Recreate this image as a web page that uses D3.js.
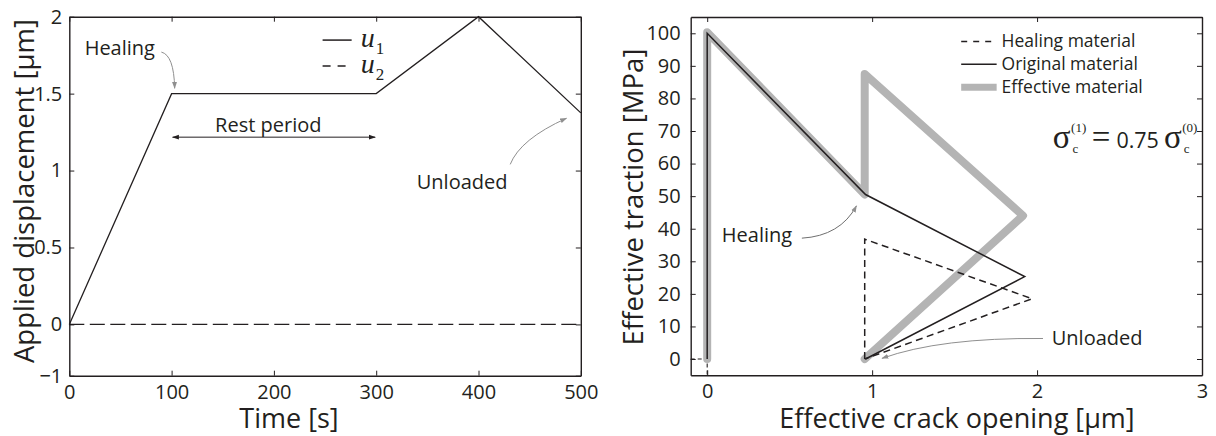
<!DOCTYPE html>
<html><head><meta charset="utf-8">
<script src="https://cdn.jsdelivr.net/npm/d3@7"></script>
<style>
html,body{margin:0;padding:0;background:#fff;}
svg text{fill:#231f20;}
</style></head>
<body>
<svg id="c" width="1216" height="436"></svg>
<script>
// ---------- Left panel data ----------
const timeVals = [0, 100, 300, 400, 500];
const u1Vals   = [0, 1.5, 1.5, 2, 1.375];
const u2Time   = [0, 500];
const u2Vals   = [0, 0];
const timeTicks = [0, 100, 200, 300, 400, 500];
const timeTickLabels = ["0", "100", "200", "300", "400", "500"];
const dispTicks = [-1/3, 0, 0.5, 1, 1.5, 2];
const dispTickLabels = ["\u22121", "0", "0.5", "1", "1.5", "2"];

// ---------- Right panel data ----------
const openTicks = [0, 1, 2, 3];
const openTickLabels = ["0", "1", "2", "3"];
const tracTicks = [0, 10, 20, 30, 40, 50, 60, 70, 80, 90, 100];
const tracTickLabels = ["0","10","20","30","40","50","60","70","80","90","100"];
const effOpening  = [0, 0, 0.955, 0.955, 1.915, 0.955];
const effTraction = [0, 100.3, 50.5, 87.5, 44, 0];
const origOpening  = [0, 0, 0.96, 1.925, 0.96];
const origTraction = [0, 100, 50.5, 25.3, 0];
const healOpening  = [0.955, 0.955, 1.97, 0.955];
const healTraction = [0, 36.8, 18.5, 0];
const healBaseOpening  = [-0.1, 0, 0];
const healBaseTraction = [0, 0, -5];

const svg = d3.select("#c");
const FONT = "'Open Sans', sans-serif";
const SER = "'Liberation Serif', serif";
const INK = "#231f20";
const GRAYA = "#8f8f8f";

const defs = svg.append("defs");
function marker(id, color, orient) {
  defs.append("marker").attr("id", id)
    .attr("viewBox", "0 0 10 10").attr("refX", 9).attr("refY", 5)
    .attr("markerWidth", 7).attr("markerHeight", 7)
    .attr("markerUnits", "userSpaceOnUse")
    .attr("orient", orient)
    .append("path").attr("d", "M0,1.5 L10,5 L0,8.5 Z").attr("fill", color);
}
marker("ahGray", GRAYA, "auto");
marker("ahBlack", INK, "auto");
marker("ahBlackStart", INK, "auto-start-reverse");

function frame(g, x, y, xt, xl, yt, yl, padX, padY) {
  const [x0, x1] = x.range(), [y0, y1] = y.range();
  const style = a => {
    a.selectAll("path.domain").attr("stroke", INK).attr("stroke-width", 1.4);
    a.selectAll(".tick line").attr("stroke", INK).attr("stroke-width", 1);
    a.selectAll("text").attr("font-family", FONT).attr("font-size", 20).attr("fill", INK);
  };
  g.append("g").attr("transform", `translate(0,${y0})`)
    .call(d3.axisBottom(x).tickValues(xt).tickSize(-5).tickSizeOuter(0).tickPadding(padX)
      .tickFormat((d, i) => xl[i])).call(style);
  g.append("g").attr("transform", `translate(0,${y1})`)
    .call(d3.axisTop(x).tickValues(xt).tickSize(-5).tickSizeOuter(0).tickFormat("")).call(style);
  g.append("g").attr("transform", `translate(${x0},0)`)
    .call(d3.axisLeft(y).tickValues(yt).tickSize(-5).tickSizeOuter(0).tickPadding(padY)
      .tickFormat((d, i) => yl[i])).call(style);
  g.append("g").attr("transform", `translate(${x1},0)`)
    .call(d3.axisRight(y).tickValues(yt).tickSize(-5).tickSizeOuter(0).tickFormat("")).call(style);
}

function curveArrow(g, x, y, s, c, e, color, mk, w) {
  const p = d3.path();
  p.moveTo(x(s[0]), y(s[1]));
  p.quadraticCurveTo(x(c[0]), y(c[1]), x(e[0]), y(e[1]));
  g.append("path").attr("d", p.toString()).attr("fill", "none")
    .attr("stroke", color).attr("stroke-width", w || 1).attr("marker-end", `url(#${mk})`);
}

// ================= LEFT PANEL =================
{
  const x = d3.scaleLinear().domain([0, 500]).range([69.3, 580.8]);
  const y = d3.scaleLinear().domain([-1/3, 2]).range([375.7, 16.7]);
  const g = svg.append("g");

  const line = d3.line().x(d => x(d[0])).y(d => y(d[1]));
  g.append("path").datum(u2Time.map((t, i) => [t, u2Vals[i]]))
    .attr("d", line).attr("fill", "none").attr("stroke", INK)
    .attr("stroke-width", 1.3).attr("stroke-dasharray", "15,5.5");
  g.append("path").datum(timeVals.map((t, i) => [t, u1Vals[i]]))
    .attr("d", line).attr("fill", "none").attr("stroke", INK).attr("stroke-width", 1.3);

  frame(g, x, y, timeTicks, timeTickLabels, dispTicks, dispTickLabels, 9, 7);

  // axis labels
  g.append("text").attr("x", 289).attr("y", 428).attr("text-anchor", "middle")
    .attr("font-family", FONT).attr("font-size", 27).text("Time [s]");
  g.append("text").attr("transform", "translate(34,191) rotate(-90)").attr("text-anchor", "middle")
    .attr("font-family", FONT).attr("font-size", 27.5).text("Applied displacement [\u03bcm]");

  // legend
  const leg = [[1.848, null, "1"], [1.68, "8,7", "2"]];
  leg.forEach((l, i) => {
    g.append("line").attr("x1", x(247.6)).attr("x2", x(276)).attr("y1", y(l[0])).attr("y2", y(l[0]))
      .attr("stroke", INK).attr("stroke-width", 1.5).attr("stroke-dasharray", l[1]);
    g.append("text").attr("x", x(285)).attr("y", y(l[0]) + 7)
      .attr("font-family", SER).attr("font-size", 28).attr("font-style", "italic").text("u");
    g.append("text").attr("x", x(285) + 15).attr("y", y(l[0]) + 14)
      .attr("font-family", SER).attr("font-size", 17).text(l[2]);
  });

  // annotations
  g.append("text").attr("x", x(15)).attr("y", y(1.75)).attr("font-family", FONT).attr("font-size", 20).text("Healing");
  curveArrow(g, x, y, [90, 1.77], [102.3, 1.75], [103, 1.535], GRAYA, "ahGray", 1);

  g.append("text").attr("x", x(194.5)).attr("y", y(1.251)).attr("text-anchor", "middle")
    .attr("font-family", FONT).attr("font-size", 20).text("Rest period");
  g.append("line").attr("x1", x(100) + 1).attr("x2", x(300) - 1).attr("y1", y(1.217)).attr("y2", y(1.217))
    .attr("stroke", INK).attr("stroke-width", 1)
    .attr("marker-start", "url(#ahBlackStart)").attr("marker-end", "url(#ahBlack)");

  g.append("text").attr("x", x(384)).attr("y", y(0.883)).attr("text-anchor", "middle")
    .attr("font-family", FONT).attr("font-size", 20).text("Unloaded");
  curveArrow(g, x, y, [431, 1.04], [440.7, 1.204], [486, 1.34], GRAYA, "ahGray", 1);
}

// ================= RIGHT PANEL =================
{
  const x = d3.scaleLinear().domain([-0.1, 3]).range([690.7, 1202]);
  const y = d3.scaleLinear().domain([-5, 105]).range([375.3, 17]);
  const g = svg.append("g");
  const line = d3.line().x(d => x(d[0])).y(d => y(d[1]));
  const zip = (a, b) => a.map((v, i) => [v, b[i]]);

  g.append("path").datum(zip(healBaseOpening, healBaseTraction)).attr("d", line)
    .attr("fill", "none").attr("stroke", INK).attr("stroke-width", 1.1).attr("stroke-dasharray", "4,3");
  g.append("path").datum(zip(effOpening, effTraction)).attr("d", line)
    .attr("fill", "none").attr("stroke", "#b4b4b4").attr("stroke-width", 8)
    .attr("stroke-linejoin", "round").attr("stroke-linecap", "round");
  g.append("path").datum(zip(healOpening, healTraction)).attr("d", line)
    .attr("fill", "none").attr("stroke", INK).attr("stroke-width", 1.5).attr("stroke-dasharray", "7,4.5");
  g.append("path").datum(zip(origOpening, origTraction)).attr("d", line)
    .attr("fill", "none").attr("stroke", INK).attr("stroke-width", 1.5);

  frame(g, x, y, openTicks, openTickLabels, tracTicks, tracTickLabels, 9, 10);

  g.append("text").attr("x", 957).attr("y", 428).attr("text-anchor", "middle")
    .attr("font-family", FONT).attr("font-size", 27).text("Effective crack opening [\u03bcm]");
  g.append("text").attr("transform", "translate(643,197) rotate(-90)").attr("text-anchor", "middle")
    .attr("font-family", FONT).attr("font-size", 27.5).text("Effective traction [MPa]");

  // legend
  const legItems = [
    { y: 97.5, t: "Healing material", dash: "6,6", w: 1.5, c: INK },
    { y: 90.5, t: "Original material", dash: null, w: 1.5, c: INK },
    { y: 83.4, t: "Effective material", dash: null, w: 7, c: "#b4b4b4" }
  ];
  legItems.forEach(l => {
    g.append("line").attr("x1", x(1.54)).attr("x2", x(1.755)).attr("y1", y(l.y)).attr("y2", y(l.y))
      .attr("stroke", l.c).attr("stroke-width", l.w).attr("stroke-dasharray", l.dash);
    g.append("text").attr("x", x(1.785)).attr("y", y(l.y) + 6)
      .attr("font-family", FONT).attr("font-size", 17.5).text(l.t);
  });

  // formula sigma_c^(1) = 0.75 sigma_c^(0), right-aligned near the frame
  {
    const fg = g.append("g");
    let cx = 0;
    const by = y(64.8);
    const put = (txt, fam, size, dy, ax) => {
      const t = fg.append("text").attr("x", ax).attr("y", by + dy)
        .attr("font-family", fam).attr("font-size", size).text(txt);
      return t.node().getComputedTextLength();
    };
    const sigma = sup => {
      const w = put("\u03c3", SER, 33, 0, cx);
      const w1 = put(sup, SER, 13, -16, cx + w + 0.5);
      const w2 = put("c", SER, 13, 5, cx + w + 2);
      cx += w + Math.max(w1, w2) + 1;
    };
    sigma("(1)");
    cx += 5;
    cx += put("=", SER, 33, 0, cx) + 6;
    cx += put("0.75", FONT, 21.5, 0, cx) + 5;
    sigma("(0)");
    fg.attr("transform", `translate(${x(2.975) - cx},0)`);
  }

  // annotations
  g.append("text").attr("x", x(0.089)).attr("y", y(35.8)).attr("font-family", FONT).attr("font-size", 20).text("Healing");
  curveArrow(g, x, y, [0.574, 37.1], [0.806, 37.8], [0.905, 47], "#6f6f6f", "ahGray", 1);

  g.append("text").attr("x", x(2.089)).attr("y", y(4.4)).attr("font-family", FONT).attr("font-size", 20).text("Unloaded");
  curveArrow(g, x, y, [2.036, 6.3], [1.412, 6.6], [1.06, 0.2], GRAYA, "ahGray", 1);
}
</script>
</body></html>
